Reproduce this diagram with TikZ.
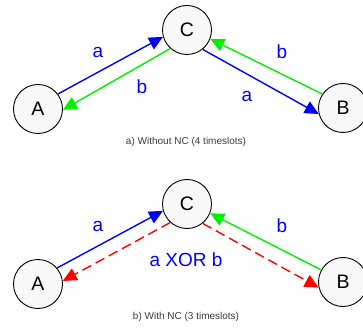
\documentclass[tikz,border=0pt]{standalone}
\usepackage{fontspec}
\setmainfont{Liberation Sans}
\usepackage{tikz}
\usetikzlibrary{arrows.meta}
\usepackage{xcolor}
\definecolor{nodefill}{RGB}{248,248,248}
\definecolor{capgray}{RGB}{60,60,60}
\definecolor{lblue}{RGB}{0,0,255}
\definecolor{lgreen}{RGB}{0,240,0}
\definecolor{lred}{RGB}{255,0,0}

\tikzset{
    station/.style={circle, draw=black, line width=0.9pt, fill=nodefill, minimum size=49pt, inner sep=0pt, font=\fontsize{19.5}{20}\selectfont},
    link/.style={line width=1.4pt, -{Triangle[length=14pt,width=13pt]}},
    lbl/.style={text=lblue, font=\fontsize{19}{19}\selectfont},
    caption/.style={text=capgray, font=\fontsize{10}{11}\selectfont}
}

\begin{document}
\begin{tikzpicture}[x=1pt,y=-1pt]
        \useasboundingbox (0,0) rectangle (363,328);

        % a) without network coding
        \node[station] (A1) at (38,109) {A};
        \node[station] (C1) at (187,30)  {C};
        \node[station] (B1) at (343,108) {B};

        \draw[link, lblue]  (A1.37)  -- (C1.196);
        \draw[link, lgreen] (C1.228) -- (A1.-2);
        \draw[link, lblue]  (C1.-51) -- (B1.194);
        \draw[link, lgreen] (B1.146) -- (C1.339);

        \node[lbl] (a1) at (98,52)  {a};
        \node[lbl] (b1) at (142,87) {b};
        \node[lbl] (b2) at (282,52) {b};
        \node[lbl] (a2) at (247,96) {a};

        \node[caption] (cap1) at (186,142) {a) Without NC (4 timeslots)};

        % b) with network coding
        \node[station] (A2) at (38,284)  {A};
        \node[station] (C2) at (187,204) {C};
        \node[station] (B2) at (343,282) {B};

        \draw[link, lblue]  (A2.40)  -- (C2.196);
        \draw[link, lgreen] (B2.151) -- (C2.338);
        \draw[link, lred, dash pattern=on 10pt off 5pt] (C2.228) -- (A2.7);
        \draw[link, lred, dash pattern=on 10pt off 5pt] (C2.-51) -- (B2.193);

        \node[lbl] (a3) at (98,226)  {a};
        \node[lbl] (b3) at (282,226) {b};
        \node[lbl] (x1) at (186,260) {a XOR b};

        \node[caption] (cap2) at (186,317) {b) With NC (3 timeslots)};
\end{tikzpicture}
\end{document}
